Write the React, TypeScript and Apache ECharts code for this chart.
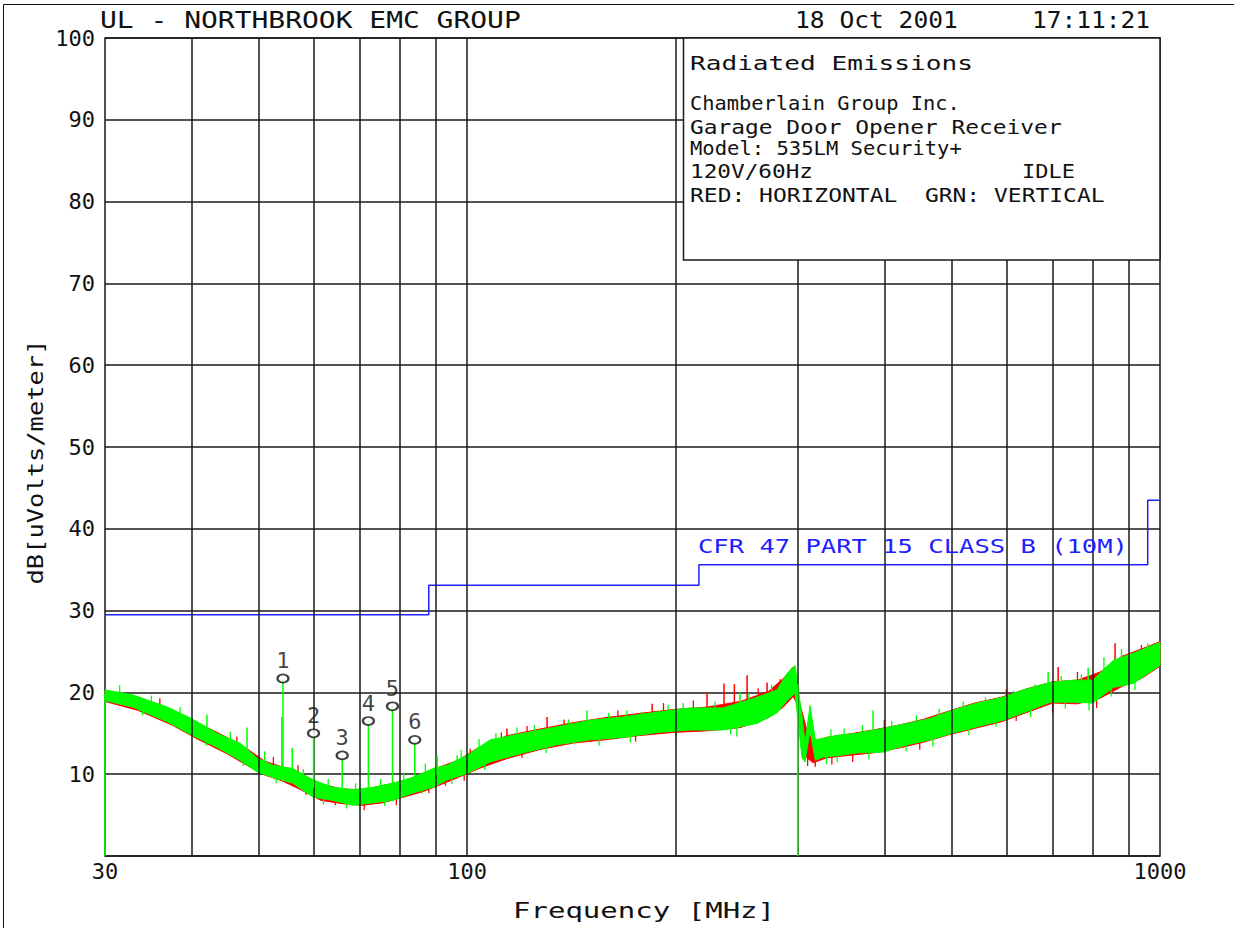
import React, { useEffect, useRef } from 'react';
import * as echarts from 'echarts';

// ---------- texts ----------
const HEADER_LEFT = 'UL - NORTHBROOK EMC GROUP';
const HEADER_DATE = '18 Oct 2001';
const HEADER_TIME = '17:11:21';
const INFO_TITLE = 'Radiated Emissions';
const INFO_LINES = [
  'Chamberlain Group Inc.',
  'Garage Door Opener Receiver',
  'Model: 535LM Security+',
  '120V/60Hz',
  'RED: HORIZONTAL  GRN: VERTICAL',
];
const INFO_MODE = 'IDLE';
const LIMIT_LABEL = 'CFR 47 PART 15 CLASS B (10M)';
const X_TITLE = 'Frequency [MHz]';
const Y_TITLE = 'dB[uVolts/meter]';

// ---------- axes ----------
const X_MIN = 30;
const X_MAX = 1000;
const Y_MIN = 0;
const Y_MAX = 100;
const Y_STEP = 10;
const GRID_FREQS = [40, 50, 60, 70, 80, 90, 100, 200, 300, 400, 500, 600, 700, 800, 900];

// ---------- limit line (FCC Part 15 Class B, 10 m) ----------
const LIMIT_F = [30, 88, 88, 216, 216, 960, 960, 1000];
const LIMIT_DB = [29.5, 29.5, 33.1, 33.1, 35.6, 35.6, 43.5, 43.5];

// ---------- green trace (vertical), band envelope ----------
const GRN_F = [30, 32.9, 36.9, 40, 43.5, 47.0, 49.7, 52.4, 56.0, 59.9, 64.0, 68.4, 73.1, 78.1, 83.5, 89.3, 93.5, 100, 107.9, 120.4, 134.8, 150.5, 167.9, 188.0, 209.7, 234.0, 262.0, 280.0, 289.5, 297.3, 304.3, 307.3, 312.5, 318, 326.5, 345.3, 365.4, 398.5, 431.5, 465.7, 501, 544.6, 593.8, 634.5, 694, 749, 800, 855.6, 914.7, 1000];
const GRN_LO = [19.0, 18.2, 16.4, 14.8, 13.3, 11.7, 10.3, 9.6, 8.9, 7.2, 6.8, 6.2, 6.5, 6.8, 7.7, 8.4, 9.3, 10.1, 11.5, 12.6, 13.6, 14.2, 14.5, 15.1, 15.4, 15.4, 16.2, 17.5, 19.0, 19.9, 12.0, 11.5, 15.4, 11.7, 12.1, 12.3, 12.6, 12.7, 13.6, 14.2, 15.0, 15.8, 16.6, 17.5, 18.8, 18.8, 18.7, 20.6, 21.1, 23.3];
const GRN_HI = [20.3, 19.7, 18.2, 16.8, 15.0, 13.8, 12.0, 11.1, 10.7, 9.3, 8.4, 8.1, 8.4, 8.9, 9.6, 10.7, 11.1, 12.3, 14.2, 15.0, 15.8, 16.6, 17.0, 17.6, 18.1, 18.1, 19.4, 20.3, 22.3, 23.3, 17.0, 13.8, 18.4, 14.2, 14.4, 14.8, 15.0, 15.6, 16.2, 16.8, 17.8, 18.7, 19.4, 20.3, 21.2, 21.5, 21.5, 23.9, 24.8, 26.1];

// ---------- red trace (horizontal), band envelope ----------
const RED_F = [30, 33.5, 37.5, 41, 45, 48.5, 51, 54, 57.5, 61.5, 66, 70.5, 75.5, 81, 86.5, 92, 97, 104, 114, 127, 142, 158, 176, 198, 222, 248, 272, 286, 295.4, 299, 303, 309, 316, 330, 355, 385, 420, 455, 495, 540, 590, 640, 700, 760, 820, 880, 940, 1000];
const RED_LO = [18.9, 17.8, 16.0, 14.2, 12.5, 10.9, 9.9, 9.2, 8.1, 6.8, 6.4, 6.2, 6.5, 7.2, 7.9, 8.8, 9.6, 10.7, 11.9, 13.0, 13.8, 14.2, 14.7, 15.1, 15.3, 15.7, 16.9, 18.2, 19.5, 18.7, 16.2, 12.0, 11.4, 12.0, 12.3, 12.6, 13.2, 13.9, 14.8, 15.6, 16.4, 17.5, 18.7, 18.6, 19.3, 20.7, 21.7, 23.2];
const RED_HI = [20.2, 19.4, 17.9, 16.2, 14.5, 12.9, 11.6, 10.9, 10.1, 8.8, 8.2, 8.1, 8.6, 9.2, 10.1, 11.0, 11.7, 13.3, 14.7, 15.5, 16.3, 16.9, 17.4, 17.9, 18.2, 18.9, 20.1, 21.7, 23.1, 20.3, 18.2, 15.5, 14.0, 14.5, 14.9, 15.4, 16.0, 16.7, 17.7, 18.7, 19.4, 20.4, 21.3, 21.5, 22.5, 24.4, 25.3, 26.2];

// ---------- tall spikes & dropouts: [freq, from dB, to dB] ----------
const GRN_SPIKES = [
  [30, 0, 19.8], [300, 0, 21.0],
  [54.2, 10.2, 21.7], [60.0, 8.3, 15.0], [66.0, 7.5, 12.3], [72.0, 7.3, 16.5], [78.0, 7.9, 18.3], [84.0, 8.7, 14.2],
  [42.1, 15.5, 17.3], [48.1, 12.5, 15.7], [55.9, 10.3, 13.2], [54.0, 10.5, 17.0], [90.5, 10.0, 12.3], [96.7, 11.0, 12.3],
  [148.9, 16.0, 17.8], [178.8, 16.5, 17.6], [247.6, 18.0, 20.0], [385.3, 14.8, 17.8], [689.5, 20.5, 22.5], [787.5, 20.5, 23.0],
];
const RED_SPIKES = [
  [114.1, 14.0, 15.6], [130.4, 15.0, 17.0], [184.9, 16.8, 18.6], [221.9, 17.5, 20.0], [234.8, 17.5, 21.1],
  [243.0, 18.0, 21.0], [253.5, 18.0, 22.1], [270.9, 19.0, 21.2], [712.8, 20.8, 23.1], [861.3, 23.0, 26.0],
];

// ---------- short noise excursions beyond the band edges: [freq, from dB, to dB] ----------
const GRN_FUZZ = [
  [31.5, 19.5, 20.9], [35, 17.8, 19.6], [38.5, 16.5, 18.2], [45.5, 13.5, 15.2], [51, 11.0, 12.8], [58, 9.0, 10.6],
  [63, 8.0, 9.4], [69, 7.5, 8.9], [75, 7.8, 9.4], [81, 8.5, 10.2], [87, 9.6, 11.3], [98, 11.2, 13.0],
  [104, 12.5, 14.3], [110, 13.3, 15.0], [118, 14.0, 15.7], [125, 14.5, 16.0], [140, 15.0, 16.7], [160, 15.8, 17.5],
  [170, 16.2, 17.8], [195, 16.8, 18.5], [205, 17.0, 18.7], [228, 17.2, 18.9], [255, 18.0, 19.9], [275, 19.0, 20.9],
  [335, 13.8, 15.5], [350, 14.0, 15.6], [372, 14.3, 16.0], [410, 15.0, 16.5], [445, 15.5, 17.2], [480, 16.3, 18.0],
  [520, 17.0, 18.9], [560, 17.7, 19.4], [615, 18.5, 20.2], [660, 19.4, 21.0], [720, 20.5, 22.0], [770, 20.5, 22.2],
  [830, 22.0, 24.3], [880, 23.0, 25.3], [960, 24.5, 26.0],
  [34, 17.2, 18.3], [42, 13.5, 14.6], [47.5, 11.0, 12.3], [53, 8.9, 10.2], [62, 6.3, 7.6], [67, 5.8, 7.0],
  [76, 6.1, 7.4], [86, 7.6, 8.8], [95, 8.8, 10.1], [106, 10.5, 11.8], [130, 12.6, 13.8], [155, 13.5, 14.8],
  [172, 13.9, 15.1], [200, 14.6, 15.8], [240, 14.9, 16.0], [245, 14.6, 15.9], [330, 11.2, 12.6], [342, 11.5, 12.8],
  [380, 11.8, 13.2], [430, 12.8, 14.0], [470, 13.4, 14.7], [530, 14.8, 16.0], [580, 15.8, 17.0], [650, 17.0, 18.3],
  [730, 18.0, 19.2], [790, 17.8, 19.2], [850, 19.5, 21.0], [920, 20.3, 21.6],
];
const RED_FUZZ = [
  [36, 18.0, 19.3], [46.5, 13.5, 14.6], [52.5, 10.8, 12.1], [57, 9.8, 11.1], [101, 11.8, 13.1], [112, 13.8, 15.1],
  [122, 14.6, 15.9], [138, 15.4, 16.7], [165, 16.5, 17.8], [192, 17.2, 18.7], [212, 17.6, 19.0], [263, 18.8, 20.5],
  [283, 19.8, 21.6], [400, 15.3, 16.6], [600, 19.0, 20.4], [760, 21.0, 22.5], [940, 24.5, 25.8],
  [58.5, 7.5, 8.7], [64.5, 6.2, 7.4], [71, 5.6, 6.8], [79, 6.2, 7.3], [88, 7.7, 8.9], [93, 8.6, 9.8],
  [99, 9.2, 10.5], [120, 12.0, 13.1], [175, 14.0, 15.2], [310, 11.0, 12.4], [318, 10.9, 12.2], [336, 11.2, 12.5],
  [360, 11.5, 12.7], [450, 13.0, 14.3], [620, 16.5, 17.6], [700, 17.5, 18.8], [810, 18.1, 19.3],
];

// ---------- markers ----------
const MARKER_IDS = ['1', '2', '3', '4', '5', '6'];
const MARKER_F = [54.2, 60.0, 66.0, 72.0, 78.0, 84.0];
const MARKER_DB = [21.7, 15.0, 12.3, 16.5, 18.3, 14.2];

// ---------- styling ----------
const MONO = '"DejaVu Sans Mono", "Liberation Mono", monospace';
const INK = '#111111';
const GRID_INK = '#1a1a1a';
const BLUE = '#2020ff';
const RED = '#ff0000';
const GREEN = '#00ff00';

let measureCtx: CanvasRenderingContext2D | null = null;
function fitScale(text: string, font: string, target: number): number {
  if (!measureCtx) measureCtx = document.createElement('canvas').getContext('2d');
  if (!measureCtx) return 1;
  measureCtx.font = font;
  const w = measureCtx.measureText(text).width;
  return w > 0 ? target / w : 1;
}

function textEl(text: string, x: number, y: number, size: number, width: number, opts: any = {}) {
  const font = `${size}px ${MONO}`;
  const align = opts.align || 'left';
  return {
    type: 'text',
    x,
    y,
    z: opts.z ?? 20,
    rotation: opts.rotation || 0,
    scaleX: fitScale(text, font, width),
    silent: true,
    style: {
      text,
      font,
      fill: opts.color || INK,
      align,
      verticalAlign: 'middle',
      textAlign: align,
      textVerticalAlign: 'middle',
    },
  };
}

function bandSeries(F: number[], LO: number[], HI: number[], color: string, z: number) {
  const data = F.map((f, i) => [f, LO[i], HI[i]]);
  return {
    type: 'custom',
    z,
    silent: true,
    coordinateSystem: 'cartesian2d',
    encode: { x: 0, y: [1, 2] },
    data,
    renderItem: (params: any, api: any) => {
      if (params.dataIndex !== 0) return null;
      const pts: number[][] = [];
      for (let i = 0; i < data.length; i++) pts.push(api.coord([data[i][0], data[i][2]]));
      for (let i = data.length - 1; i >= 0; i--) pts.push(api.coord([data[i][0], data[i][1]]));
      return {
        type: 'polygon',
        shape: { points: pts },
        style: { fill: color, stroke: color, lineWidth: 1 },
      };
    },
  };
}

function spikeSeries(spikes: number[][], color: string, z: number, width: number) {
  return {
    type: 'custom',
    z,
    silent: true,
    coordinateSystem: 'cartesian2d',
    encode: { x: 0, y: [1, 2] },
    data: spikes,
    renderItem: (params: any, api: any) => {
      const p1 = api.coord([api.value(0), api.value(1)]);
      const p2 = api.coord([api.value(0), api.value(2)]);
      return {
        type: 'line',
        shape: { x1: p1[0], y1: p1[1], x2: p2[0], y2: p2[1] },
        style: { stroke: color, lineWidth: width },
      };
    },
  };
}

export default function App() {
  const ref = useRef<HTMLDivElement>(null);

  useEffect(() => {
    if (!ref.current) return;
    const chart = echarts.init(ref.current, undefined, { renderer: 'svg' });

    const gridLeft = 105;
    const gridTop = 38;
    const gridRight = 1160;
    const gridBottom = 856;

    const graphics: any[] = [
      {
        type: 'polyline',
        z: 30,
        silent: true,
        shape: { points: [[3.5, 928], [3.5, 4.5], [1234, 4.5]] },
        style: { stroke: INK, lineWidth: 1, fill: 'none' },
      },
      {
        type: 'rect',
        z: 15,
        silent: true,
        shape: { x: 683.5, y: gridTop, width: gridRight - 683.5, height: 260 - gridTop },
        style: { fill: '#ffffff', stroke: GRID_INK, lineWidth: 1.5 },
      },
      textEl(HEADER_LEFT, 100, 20, 23, 421),
      textEl(HEADER_DATE, 795, 20, 23, 163),
      textEl(HEADER_TIME, 1032, 20, 23, 118),
      textEl(INFO_TITLE, 690, 63, 20, 283),
      textEl(INFO_LINES[0], 690, 104, 19, 270),
      textEl(INFO_LINES[1], 690, 127, 19, 372),
      textEl(INFO_LINES[2], 690, 149, 19, 272),
      textEl(INFO_LINES[3], 690, 172, 19, 123),
      textEl(INFO_MODE, 1022, 172, 19, 53),
      textEl(INFO_LINES[4], 690, 195, 19, 415),
      textEl(LIMIT_LABEL, 698, 546, 19, 430, { color: BLUE, z: 8 }),
      textEl(X_TITLE, 644, 911, 21, 262, { align: 'center' }),
      textEl(Y_TITLE, 35, 462, 21, 245, { align: 'center', rotation: Math.PI / 2 }),
    ];

    const option: any = {
      animation: false,
      backgroundColor: '#ffffff',
      grid: {
        left: gridLeft,
        top: gridTop,
        width: gridRight - gridLeft,
        height: gridBottom - gridTop,
        show: true,
        borderColor: GRID_INK,
        borderWidth: 1.5,
        backgroundColor: 'transparent',
      },
      xAxis: {
        type: 'log',
        logBase: 10,
        min: X_MIN,
        max: X_MAX,
        axisLine: { show: false },
        axisTick: { show: false },
        splitLine: { show: false },
        axisLabel: {
          show: true,
          margin: 4,
          color: INK,
          fontFamily: MONO,
          fontSize: 22,
          formatter: (v: number) => String(Math.round(v)),
        },
      },
      yAxis: {
        type: 'value',
        min: Y_MIN,
        max: Y_MAX,
        interval: Y_STEP,
        axisLine: { show: false },
        axisTick: { show: false },
        splitLine: { show: true, lineStyle: { color: GRID_INK, width: 1.5 } },
        axisLabel: {
          margin: 10,
          color: INK,
          fontFamily: MONO,
          fontSize: 22,
          formatter: (v: number) => (v === 0 ? '' : String(v)),
        },
      },
      graphic: { elements: graphics },
      series: [
        {
          type: 'line',
          z: 2,
          silent: true,
          symbol: 'none',
          data: LIMIT_F.map((f, i) => [f, LIMIT_DB[i]]),
          lineStyle: { color: BLUE, width: 1.5 },
          markLine: {
            silent: true,
            symbol: ['none', 'none'],
            label: { show: false },
            lineStyle: { color: GRID_INK, width: 1.5, type: 'solid' },
            data: GRID_FREQS.map((f) => ({ xAxis: f })),
          },
        },
        bandSeries(RED_F, RED_LO, RED_HI, RED, 3),
        spikeSeries(RED_SPIKES, RED, 3, 1.5),
        spikeSeries(RED_FUZZ, RED, 3, 1.3),
        bandSeries(GRN_F, GRN_LO, GRN_HI, GREEN, 4),
        spikeSeries(GRN_FUZZ, GREEN, 4, 1.3),
        spikeSeries(GRN_SPIKES, GREEN, 5, 1.5),
        {
          type: 'scatter',
          z: 6,
          silent: true,
          symbol: 'emptyCircle',
          symbolSize: [11, 8],
          data: MARKER_F.map((f, i) => [f, MARKER_DB[i]]),
          itemStyle: { color: INK, borderColor: INK, borderWidth: 1.5 },
          label: {
            show: true,
            position: 'top',
            distance: 2,
            color: INK,
            fontFamily: MONO,
            fontSize: 22,
            formatter: (p: any) => MARKER_IDS[p.dataIndex],
          },
        },
      ],
    };

    chart.setOption(option);
    return () => chart.dispose();
  }, []);

  return (
    <div
      ref={ref}
      style={{ position: 'absolute', left: 0, top: 0, width: 1234, height: 928, background: '#fff' }}
    />
  );
}
